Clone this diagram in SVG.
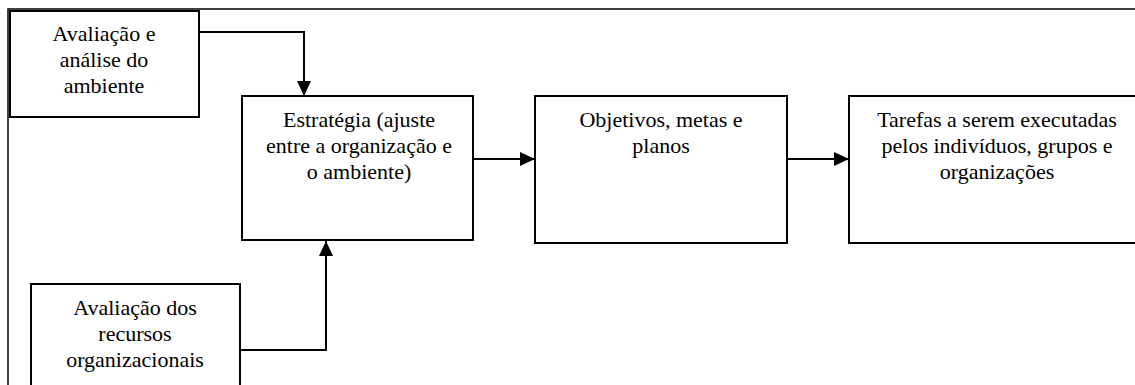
<svg xmlns="http://www.w3.org/2000/svg" width="1135" height="385" viewBox="0 0 1135 385">
  <style>
    .box { fill: #ffffff; stroke: #000000; stroke-width: 2; }
    .frame { fill: none; stroke: #000000; stroke-width: 1.5; }
    .link { fill: none; stroke: #000000; stroke-width: 2; }
    .label { font-family: "Liberation Serif", "Times New Roman", serif; font-size: 22px; fill: #000000; text-anchor: middle; }
  </style>
  <defs>
    <marker id="arrow" viewBox="0 0 15 14" refX="15" refY="7" markerWidth="15" markerHeight="14" markerUnits="userSpaceOnUse" orient="auto">
      <path d="M0,0 L15,7 L0,14 Z" fill="#000000"/>
    </marker>
  </defs>

  <rect width="1135" height="385" fill="#ffffff"/>

  <!-- outer frame: top and left edges -->
  <path class="frame" d="M8,385 L8,9 L1135,9"/>

  <g id="connectors">
    <path class="link" d="M199,32 L304,32 L304,96" marker-end="url(#arrow)"/>
    <path class="link" d="M240,350 L326,350 L326,241" marker-end="url(#arrow)"/>
    <path class="link" d="M473,159 L535,159" marker-end="url(#arrow)"/>
    <path class="link" d="M787,159 L849,159" marker-end="url(#arrow)"/>
  </g>

  <g id="ambiente">
    <rect class="box" x="10" y="11" width="189" height="106"/>
    <text class="label" x="104" y="41">Avaliação e</text>
    <text class="label" x="104" y="67">análise do</text>
    <text class="label" x="104" y="93">ambiente</text>
  </g>

  <g id="estrategia">
    <rect class="box" x="242" y="96" width="231" height="144"/>
    <text class="label" x="359" y="127">Estratégia (ajuste</text>
    <text class="label" x="359" y="153">entre a organização e</text>
    <text class="label" x="359" y="179">o ambiente)</text>
  </g>

  <g id="objetivos">
    <rect class="box" x="535" y="96" width="252" height="147"/>
    <text class="label" x="661" y="127">Objetivos, metas e</text>
    <text class="label" x="661" y="153">planos</text>
  </g>

  <g id="tarefas">
    <rect class="box" x="849" y="96" width="300" height="147"/>
    <text class="label" x="997" y="127">Tarefas a serem executadas</text>
    <text class="label" x="997" y="153">pelos indivíduos, grupos e</text>
    <text class="label" x="997" y="179">organizações</text>
  </g>

  <g id="recursos">
    <rect class="box" x="31" y="284" width="209" height="120"/>
    <text class="label" x="135" y="315">Avaliação dos</text>
    <text class="label" x="135" y="341">recursos</text>
    <text class="label" x="135" y="367">organizacionais</text>
  </g>
</svg>
